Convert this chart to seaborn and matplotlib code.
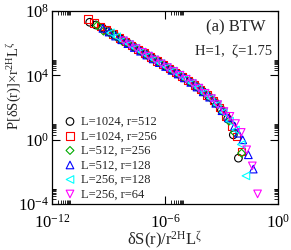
import numpy as np
import matplotlib
matplotlib.use("Agg")
import matplotlib.pyplot as plt
import seaborn as sns
from matplotlib.ticker import FixedLocator, NullFormatter

# values, stored as log10 of x and y
black_lx = [-10.0, -9.67, -9.33, -9.0, -8.67, -8.33, -8.0, -7.67, -7.33, -7.0, -6.67, -6.33, -6.0,
            -5.67, -5.33, -5.0, -4.67, -4.33, -4.0, -3.67, -3.33, -3.0, -2.67, -2.37, -2.1]
black_ly = [7.30, 7.13, 6.95, 6.72, 6.49, 6.25, 6.02, 5.78, 5.54, 5.30, 5.07, 4.83, 4.58,
            4.34, 4.10, 3.86, 3.60, 3.30, 3.00, 2.68, 2.30, 1.85, 1.30, 0.30, -1.15]

red_lx = [-10.1, -9.77, -9.43, -9.1, -8.77, -8.43, -8.1, -7.77, -7.43, -7.1, -6.77, -6.43, -6.1,
          -5.77, -5.43, -5.1, -4.77, -4.43, -4.1, -3.77, -3.43, -3.1, -2.77, -2.45, -2.2, -1.95]
red_ly = [7.50, 7.25, 7.02, 6.85, 6.56, 6.32, 6.09, 5.85, 5.61, 5.38, 5.14, 4.90, 4.66,
          4.42, 4.17, 3.93, 3.68, 3.40, 3.10, 2.78, 2.42, 2.00, 1.48, 0.80, 0.20, -0.75]

green_lx = [-9.6, -9.27, -8.93, -8.6, -8.27, -7.93, -7.6, -7.27, -6.93, -6.6, -6.27, -5.93,
            -5.6, -5.27, -4.93, -4.6, -4.27, -3.93, -3.6, -3.27, -2.93, -2.6, -2.3, -1.93]
green_ly = [7.10, 6.75, 6.62, 6.40, 6.12, 5.95, 5.71, 5.48, 5.23, 5.00, 4.76, 4.52,
            4.29, 4.05, 3.80, 3.53, 3.25, 2.93, 2.60, 2.22, 1.74, 1.15, 0.45, -0.84]

blue_lx = [-9.3, -8.97, -8.63, -8.3, -7.97, -7.63, -7.3, -6.97, -6.63, -6.3, -5.97, -5.63,
           -5.3, -4.97, -4.63, -4.3, -3.97, -3.63, -3.3, -2.97, -2.63, -2.3, -2.1, -1.87, -1.57, -1.31]
blue_ly = [6.92, 6.69, 6.44, 6.21, 5.97, 5.73, 5.50, 5.26, 5.02, 4.79, 4.55, 4.31,
           4.08, 3.84, 3.56, 3.27, 2.97, 2.64, 2.26, 1.80, 1.35, 0.85, 0.40, -0.01, -0.94, -1.83]

cyan_lx = [-8.9, -8.57, -8.23, -7.9, -7.57, -7.23, -6.9, -6.57, -6.23, -5.9, -5.57, -5.23,
           -4.9, -4.57, -4.23, -3.9, -3.57, -3.23, -2.9, -2.57, -2.25, -1.95, -1.7]
cyan_ly = [6.64, 6.40, 6.16, 5.93, 5.69, 5.45, 5.21, 4.98, 4.74, 4.50, 4.27, 4.03,
           3.78, 3.51, 3.21, 2.90, 2.57, 2.17, 1.70, 1.15, 0.60, -0.30, -2.25]

magenta_lx = [-8.2, -7.87, -7.53, -7.2, -6.87, -6.53, -6.2, -5.87, -5.53, -5.2, -4.87, -4.53,
              -4.2, -3.87, -3.53, -3.2, -2.87, -2.55, -2.25, -1.95, -1.66, -1.36, -1.08]
magenta_ly = [6.14, 5.90, 5.66, 5.43, 5.19, 4.95, 4.71, 4.48, 4.24, 4.00, 3.75, 3.48,
              3.20, 2.88, 2.55, 2.18, 1.75, 1.45, 1.00, 0.45, -0.63, -1.63, -3.37]

labels = ["L=1024, r=512", "L=1024, r=256", "L=512, r=256",
          "L=512, r=128", "L=256, r=128", "L=256, r=64"]

sns.set_style("ticks")
plt.rcParams["font.family"] = ["Liberation Serif", "DejaVu Serif"]
plt.rcParams["mathtext.fontset"] = "custom"
plt.rcParams["mathtext.rm"] = "Liberation Serif"
plt.rcParams["mathtext.it"] = "Liberation Serif"
plt.rcParams["mathtext.default"] = "regular"

fig = plt.figure(figsize=(2.91, 2.5), dpi=100)
ax = fig.add_axes([0.179, 0.184, 0.776, 0.772])

series = [
    (black_lx, black_ly, "o", "black", 30),
    (red_lx, red_ly, "s", "red", 28),
    (green_lx, green_ly, "D", "#00aa00", 16),
    (blue_lx, blue_ly, "^", "blue", 30),
    (cyan_lx, cyan_ly, "<", "cyan", 30),
    (magenta_lx, magenta_ly, "v", "magenta", 30),
]

for (lx, ly, mk, col, size), lab in zip(series, labels):
    sns.scatterplot(x=np.power(10.0, lx), y=np.power(10.0, ly), ax=ax, marker=mk, s=size,
                    facecolor="none", edgecolor=col, linewidth=0.8, label=lab)

ax.set_xscale("log")
ax.set_yscale("log")
ax.set_xlim(1e-12, 1e0)
ax.set_ylim(1e-4, 1e8)

xmaj = [1e-12, 1e-6, 1e0]
ymaj = [1e-4, 1e0, 1e4, 1e8]
ax.xaxis.set_major_locator(FixedLocator(xmaj))
ax.yaxis.set_major_locator(FixedLocator(ymaj))
ax.xaxis.set_minor_locator(FixedLocator([m * k for m in xmaj for k in range(2, 10)]))
ax.yaxis.set_minor_locator(FixedLocator([m * k for m in ymaj for k in range(2, 10)]))
ax.xaxis.set_minor_formatter(NullFormatter())
ax.yaxis.set_minor_formatter(NullFormatter())

ax.tick_params(which="both", direction="in", top=True, right=True, colors="black")
ax.tick_params(which="major", length=6, width=0.8, labelsize=12)
ax.tick_params(axis="x", which="major", pad=7)
ax.tick_params(axis="y", which="major", pad=2)
ax.tick_params(which="minor", length=3, width=0.6)
for sp in ax.spines.values():
    sp.set_color("black")
    sp.set_linewidth(0.9)

ax.set_xlabel(r"$\delta$S(r)/r$^{2H}$L$^{\zeta}$", fontsize=12, labelpad=-1)
ax.set_ylabel(r"P[$\delta$S(r)]$\times$r$^{2H}$L$^{\zeta}$", fontsize=10.5)
ax.yaxis.set_label_coords(-0.13, 0.615)

ax.text(0.947, 0.917, "(a) BTW", transform=ax.transAxes, ha="right", va="center", fontsize=12)
ax.text(0.975, 0.788, "H=1,  \u03b6=1.75", transform=ax.transAxes, ha="right", va="center", fontsize=10.5)

ax.legend(loc="lower left", bbox_to_anchor=(0.035, 0.0), frameon=False, fontsize=9,
          handletextpad=0.4, labelspacing=0.2, borderaxespad=0, borderpad=0.3, handlelength=1.0)

fig.savefig("out.png", dpi=100)
